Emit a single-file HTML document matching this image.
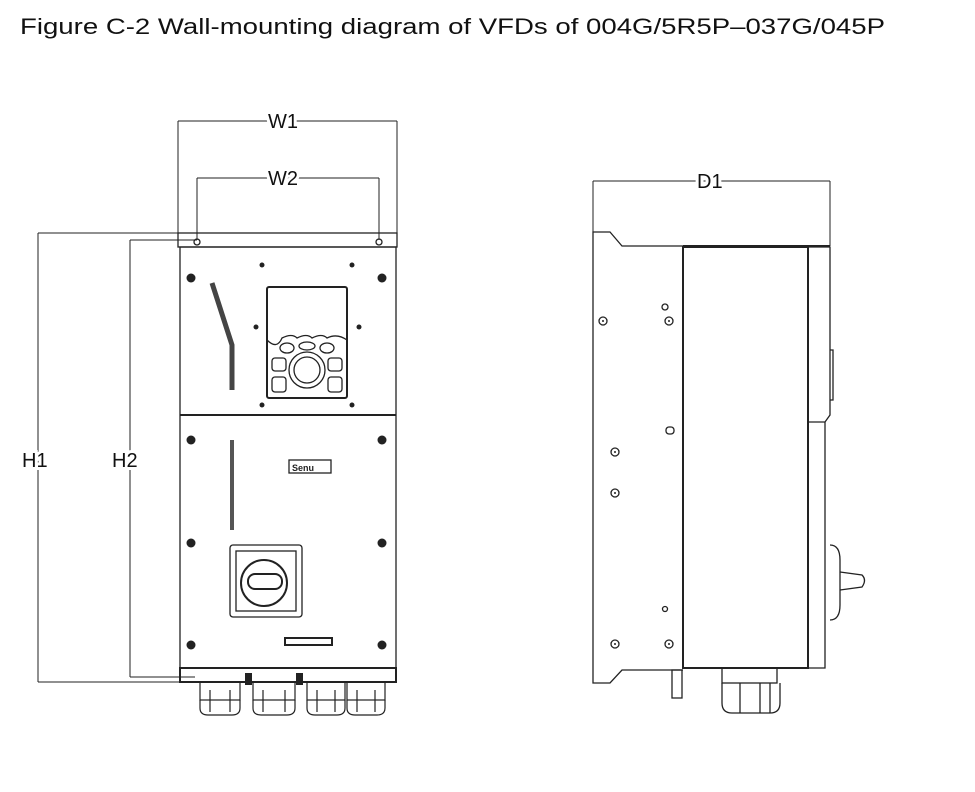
<!DOCTYPE html>
<html><head><meta charset="utf-8"><style>body{margin:0;background:#fff}svg{display:block}</style></head>
<body>
<svg width="975" height="792" viewBox="0 0 975 792" xmlns="http://www.w3.org/2000/svg" font-family="Liberation Sans, sans-serif">
<text x="20" y="34" font-size="22" textLength="865" lengthAdjust="spacingAndGlyphs" fill="#111">Figure C-2 Wall-mounting diagram of VFDs of 004G/5R5P–037G/045P</text>
<g stroke="#222" fill="none" stroke-width="1">
<line x1="178" y1="121" x2="397" y2="121"/><line x1="178" y1="121" x2="178" y2="235"/><line x1="397" y1="121" x2="397" y2="235"/>
<line x1="197" y1="178" x2="379" y2="178"/><line x1="197" y1="178" x2="197" y2="240"/><line x1="379" y1="178" x2="379" y2="240"/>
<line x1="38" y1="233" x2="38" y2="682"/><line x1="38" y1="233" x2="178" y2="233"/><line x1="38" y1="682" x2="180" y2="682"/>
<line x1="130" y1="240" x2="130" y2="677"/><line x1="130" y1="240" x2="197" y2="240"/><line x1="130" y1="677" x2="195" y2="677"/>
<line x1="593" y1="181" x2="830" y2="181"/><line x1="593" y1="181" x2="593" y2="232"/><line x1="830" y1="181" x2="830" y2="246"/>
</g>
<g font-size="20" fill="#111" stroke="#fff" stroke-width="6" paint-order="stroke">
<text x="268" y="128">W1</text><text x="268" y="185">W2</text><text x="697" y="188">D1</text>
<text x="22" y="467">H1</text><text x="112" y="467">H2</text>
</g>
<g stroke="#222" fill="none" stroke-width="1.3">
<rect x="178" y="233" width="219" height="14"/>
<circle cx="197" cy="242" r="3"/><circle cx="379" cy="242" r="3"/>
<rect x="180" y="247" width="216" height="421"/>
<line x1="180" y1="415" x2="396" y2="415" stroke-width="2"/>
<rect x="180" y="668" width="216" height="14" stroke-width="2"/>
<rect x="267" y="287" width="80" height="111" rx="2" stroke-width="2"/>
<path d="M267 340 q10 10 15 -2 q10 -5 15 0 q10 -5 15 0 q10 -5 15 0 q10 -5 20 2" />
<circle cx="307" cy="370" r="18"/><circle cx="307" cy="370" r="13"/>
<rect x="272" y="358" width="14" height="13" rx="3"/><rect x="328" y="358" width="14" height="13" rx="3"/>
<rect x="272" y="377" width="14" height="15" rx="3"/><rect x="328" y="377" width="14" height="15" rx="3"/>
<ellipse cx="287" cy="348" rx="7" ry="5"/><ellipse cx="307" cy="346" rx="8" ry="4"/><ellipse cx="327" cy="348" rx="7" ry="5"/>
<path d="M212 283 L232 345 L232 390" stroke-width="5" stroke="#444"/>
<line x1="232" y1="440" x2="232" y2="530" stroke-width="4" stroke="#555"/>
<rect x="289" y="460" width="42" height="13"/>
<rect x="230" y="545" width="72" height="72" rx="3"/><rect x="236" y="551" width="60" height="60"/>
<circle cx="264" cy="583" r="23" stroke-width="2"/>
<rect x="248" y="574" width="34" height="15" rx="7" stroke-width="2"/>
<rect x="285" y="638" width="47" height="7" stroke-width="2"/>
<g stroke-width="1.2">
<rect x="200" y="682" width="40" height="18"/><path d="M200 700 v8 q0 7 8 7 h24 q8 0 8 -7 v-8"/>
<rect x="253" y="682" width="42" height="18"/><path d="M253 700 v8 q0 7 8 7 h26 q8 0 8 -7 v-8"/>
<rect x="307" y="682" width="38" height="18"/><path d="M307 700 v8 q0 7 8 7 h22 q8 0 8 -7 v-8"/>
<rect x="347" y="682" width="38" height="18"/><path d="M347 700 v8 q0 7 8 7 h22 q8 0 8 -7 v-8"/>
<line x1="210" y1="690" x2="210" y2="712"/><line x1="230" y1="690" x2="230" y2="712"/>
<line x1="263" y1="690" x2="263" y2="712"/><line x1="285" y1="690" x2="285" y2="712"/>
<line x1="317" y1="690" x2="317" y2="712"/><line x1="335" y1="690" x2="335" y2="712"/>
<line x1="357" y1="690" x2="357" y2="712"/><line x1="375" y1="690" x2="375" y2="712"/>
</g>
</g>
<g fill="#222">
<circle cx="191" cy="278" r="4.5"/><circle cx="382" cy="278" r="4.5"/>
<circle cx="262" cy="265" r="2.5"/><circle cx="352" cy="265" r="2.5"/>
<circle cx="256" cy="327" r="2.5"/><circle cx="359" cy="327" r="2.5"/>
<circle cx="262" cy="405" r="2.5"/><circle cx="352" cy="405" r="2.5"/>
<circle cx="191" cy="440" r="4.5"/><circle cx="382" cy="440" r="4.5"/>
<circle cx="191" cy="543" r="4.5"/><circle cx="382" cy="543" r="4.5"/>
<circle cx="191" cy="645" r="4.5"/><circle cx="382" cy="645" r="4.5"/>
<rect x="245" y="673" width="7" height="12"/><rect x="296" y="673" width="7" height="12"/>
<text x="292" y="471" font-size="9" font-weight="bold">Senu</text>
</g>
<g stroke="#222" fill="none" stroke-width="1.3">
<path d="M683 246 L622 246 L610 232 L593 232 L593 683 L610 683 L622 670 L683 670"/>
<rect x="683" y="247" width="125" height="421" stroke-width="2"/>
<line x1="683" y1="246" x2="830" y2="246" stroke-width="2"/>
<path d="M808 247 L830 247 L830 415 L825 422 L808 422"/>
<path d="M825 422 L825 668 L808 668"/>
<path d="M830 350 L833 350 L833 400 L830 400"/>
<path d="M830 545 q10 0 10 15 v45 q0 15 -10 15"/>
<path d="M840 572 L862 575 q5 5 0 12 L840 590"/>
<circle cx="603" cy="321" r="4"/><circle cx="669" cy="321" r="4"/>
<circle cx="665" cy="307" r="3"/>
<rect x="666" y="427" width="8" height="7" rx="3"/>
<circle cx="615" cy="452" r="4"/><circle cx="615" cy="493" r="4"/>
<circle cx="665" cy="609" r="2.5"/>
<circle cx="615" cy="644" r="4"/><circle cx="669" cy="644" r="4"/>
<rect x="672" y="670" width="10" height="28"/>
<rect x="722" y="668" width="55" height="15"/>
<path d="M722 683 v20 q0 10 10 10 h38 q10 0 10 -10 v-20"/>
<line x1="740" y1="683" x2="740" y2="713"/><line x1="760" y1="683" x2="760" y2="713"/><line x1="770" y1="683" x2="770" y2="713"/>
</g>
<g fill="#222"><circle cx="603" cy="321" r="1"/><circle cx="669" cy="321" r="1"/><circle cx="615" cy="452" r="1"/><circle cx="615" cy="493" r="1"/><circle cx="615" cy="644" r="1"/><circle cx="669" cy="644" r="1"/></g>
</svg>
</body></html>
